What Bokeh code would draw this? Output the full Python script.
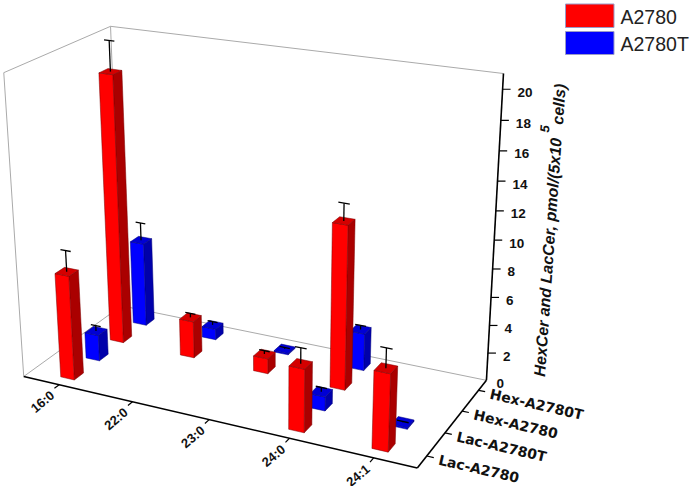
import numpy as np
from bokeh.plotting import figure
from bokeh.models import Range1d
from bokeh.core.properties import value
from bokeh.embed import file_html
from bokeh.resources import INLINE

categories = ["16:0", "22:0", "23:0", "24:0", "24:1"]
rows = ["Lac-A2780", "Lac-A2780T", "Hex-A2780", "Hex-A2780T"]
z_ticks = [0, 2, 4, 6, 8, 10, 12, 14, 16, 18, 20]
z_max = 21.0
lac_a2780 = [7.5, None, None, 4.4, 5.3]
lac_a2780t = [1.9, None, None, 1.0, 0.1]
hex_a2780 = [19.35, 2.7, 1.1, 11.6, None]
hex_a2780t = [6.25, 0.8, 0.1, 2.7, None]
lac_a2780_err = [1.5, 0, 0, 1.1, 1.35]
lac_a2780t_err = [0.4, 0, 0, 0.3, 0.05]
hex_a2780_err = [2.1, 0.3, 0.25, 1.2, 0]
hex_a2780t_err = [1.3, 0.25, 0.1, 0.3, 0]
series_colors = {"A2780": ("#ff0000", "#aa0000", "#d40000", "#7a0000"),
                 "A2780T": ("#0000ff", "#0000aa", "#0000d4", "#00007a")}

# camera of the 3-D box: box corners (u, v, w) -> page pixels
box = [((0,0,0),(23.3,376.3)), ((1,0,0),(416.7,467.3)), ((1,1,0),(486,380)),
       ((0,1,0),(121,305)), ((0,0,1),(3.3,72)), ((0,1,1),(110,26)), ((1,1,1),(503,73))]
A = []
for (u,v,w),(x,y) in box:
    A.append([u,v,w,1,0,0,0,0,-x*u,-x*v,-x*w,-x])
    A.append([0,0,0,0,u,v,w,1,-y*u,-y*v,-y*w,-y])
P = np.linalg.svd(np.array(A, float))[2][-1].reshape(3,4)

def proj(u, v, z=0.0):
    h = P @ np.array([u, v, z/z_max, 1.0])
    return h[0]/h[2], h[1]/h[2]

def ucat(i): return (i+0.5)/len(categories)
def vrow(j): return (j+0.5)/len(rows)

p = figure(width=700, height=486, x_range=Range1d(0,700), y_range=Range1d(486,0),
           output_backend="svg", toolbar_location=None, min_border=0)
p.axis.visible = False
p.grid.visible = False
p.outline_line_color = None
p.background_fill_color = "white"

def seg(a, b, color, lw):
    p.line([a[0],b[0]], [a[1],b[1]], line_color=color, line_width=lw)

GR = "#aaaaaa"
for a,b in [((0,0,0),(0,0,z_max)), ((0,0,z_max),(0,1,z_max)), ((0,1,z_max),(1,1,z_max)),
            ((0,1,0),(0,1,z_max)), ((0,0,0),(0,1,0)), ((0,1,0),(1,1,0))]:
    seg(proj(*a), proj(*b), GR, 1)

# bars
bw, bd = 0.019, 0.045
sers = [(0,"A2780",lac_a2780,lac_a2780_err),(1,"A2780T",lac_a2780t,lac_a2780t_err),
        (2,"A2780",hex_a2780,hex_a2780_err),(3,"A2780T",hex_a2780t,hex_a2780t_err)]
for j,name,vals,errs in reversed(sers):
    c = series_colors[name]
    for i,val in enumerate(vals):
        if val is None: continue
        u,v = ucat(i), vrow(j)
        def poly(pts, col):
            xy = [proj(*q) for q in pts]
            p.patch([q[0] for q in xy],[q[1] for q in xy], fill_color=col, line_color=c[3], line_width=0.5)
        u0,u1,v0,v1 = u-bw,u+bw,v-bd,v+bd
        poly([(u1,v0,0),(u1,v1,0),(u1,v1,val),(u1,v0,val)], c[1])
        poly([(u0,v0,0),(u1,v0,0),(u1,v0,val),(u0,v0,val)], c[0])
        poly([(u0,v0,val),(u1,v0,val),(u1,v1,val),(u0,v1,val)], c[2])
        e = errs[i]
        if e:
            seg(proj(u,v,val), proj(u,v,val+e), "black", 1.3)
            seg(proj(u-0.014,v,val+e), proj(u+0.014,v,val+e), "black", 1.3)

# axes
seg(proj(0,0,0), proj(1,0,0), "black", 1.6)
seg(proj(1,0,0), proj(1,1,0), "black", 1.6)
seg(proj(1,1,0), proj(1,1,z_max), "black", 1.6)

for i,lab in enumerate(categories):
    a = proj(ucat(i),0,0); b = proj(ucat(i),-0.045,0)
    seg(a,b,"black",1.2)
    p.text([b[0]-2],[b[1]+5],text=[lab],angle=40,angle_units="deg",text_align="right",
           text_baseline="middle",text_font=value("Liberation Sans"),text_font_style="bold",
           text_font_size="13px",text_color="#111111")
for j,lab in enumerate(rows):
    a = proj(1,vrow(j),0); b = proj(1.016,vrow(j),0)
    seg(a,b,"black",1.2)
    p.text([b[0]+5],[b[1]+2],text=[lab],angle=-13,angle_units="deg",text_align="left",
           text_baseline="middle",text_font=value("DejaVu Sans"),text_font_style="bold",
           text_font_size="14px",text_color="#111111")
for t in z_ticks:
    a = proj(1,1,t); b = (a[0]+8, a[1])
    if t > 0:
        seg(a,b,"black",1.2)
    p.text([a[0]+15 if t else a[0]+10],[a[1]+3],text=[str(t)],text_align="left",text_baseline="middle",
           text_font=value("Liberation Sans"),text_font_style="bold",text_font_size="13.5px",text_color="#111111")

def ylab(x,y,s,size="16px",align="left"):
    p.text([x],[y],text=[s],angle=86,angle_units="deg",text_align=align,text_baseline="middle",
           text_font=value("Liberation Sans"),text_font_style="bold italic",text_font_size=size,text_color="#111111")
ylab(539,376,"HexCer and LacCer, pmol/(5x10")
ylab(544,132,"5","13px")
ylab(557,124,"cells)")

# legend
for name,y0,y1 in [("A2780",3.5,27),("A2780T",31,54)]:
    p.quad(left=[565],right=[613.5],top=[y0],bottom=[y1],fill_color=series_colors[name][0],line_color="#9a9ac8",line_width=1)
    p.text([620],[(y0+y1)/2+1],text=[name],text_baseline="middle",text_font=value("Liberation Sans"),
           text_font_size="19.5px",text_color="#222222")

open("out.html","w").write(file_html(p, INLINE))
